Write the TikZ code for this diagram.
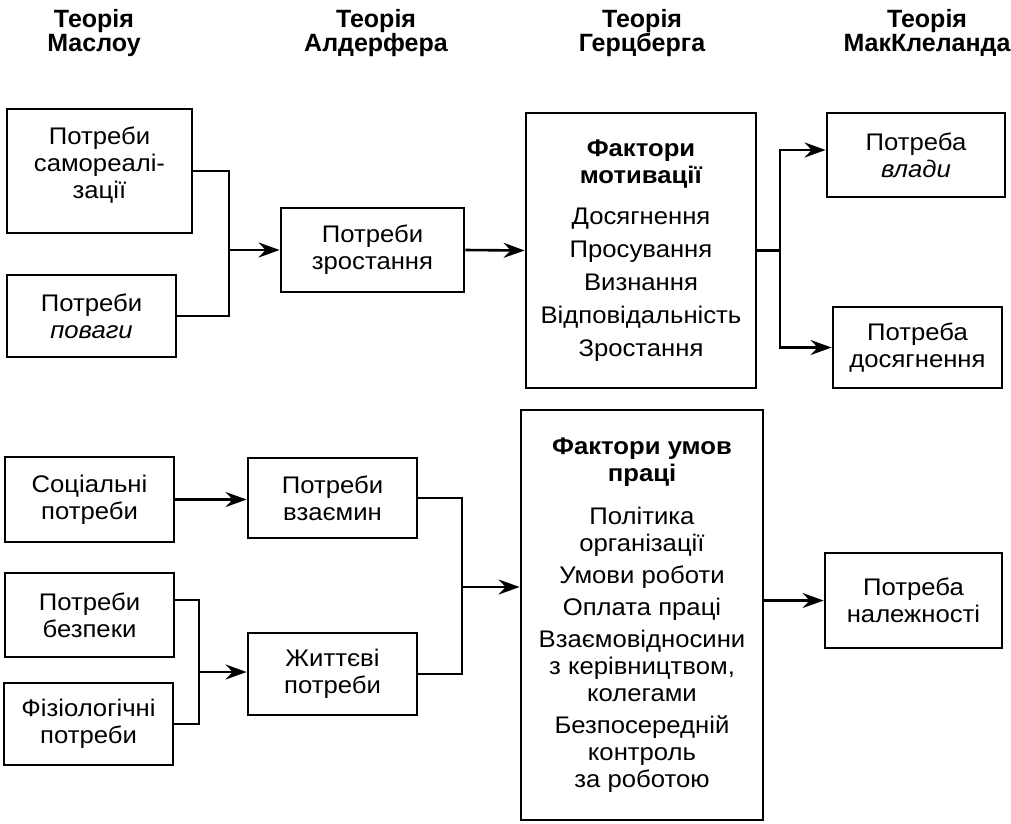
\documentclass[tikz,border=0pt]{standalone}
\usepackage{fontspec}
\setmainfont{Liberation Sans}[FakeStretch=1.07]
\newfontfamily\hdrfont{Liberation Sans}
\usetikzlibrary{arrows.meta}
\begin{document}
\begin{tikzpicture}[x=1pt,y=-1pt,
  box/.style={draw, line width=2.8pt, inner sep=0pt, align=center, font=\fontsize{24}{27}\selectfont},
  hdr/.style={align=center, font=\hdrfont\bfseries\fontsize{25}{24}\selectfont},
  conn/.style={line width=2.6pt},
  arr/.style={conn, -{Stealth[length=21pt,width=15pt,inset=7pt]}}]
\useasboundingbox (0,0) rectangle (1011,823);

% headers
\node[hdr] (h1) at (94,33) {Теорія\\Маслоу};
\node[hdr] (h2) at (376,33) {Теорія\\Алдерфера};
\node[hdr] (h3) at (642,33) {Теорія\\Герцберга};
\node[hdr] (h4) at (927,33) {Теорія\\МакКлеланда};

% Maslow
\node[box, minimum width=185pt, minimum height=124pt] (sam) at (99.5,171) {Потреби\\самореалі-\\зації\\[-11pt]};
\node[box, minimum width=169pt, minimum height=82pt] (pov) at (91.5,316) {Потреби\\\textit{поваги}};
\node[box, minimum width=169pt, minimum height=85pt] (soc) at (89.5,499.5) {Соціальні\\потреби};
\node[box, minimum width=169pt, minimum height=84pt] (bez) at (89.5,615) {Потреби\\безпеки};
\node[box, minimum width=169pt, minimum height=82pt] (fiz) at (88.5,724) {Фізіологічні\\потреби};

% Alderfer
\node[box, minimum width=183pt, minimum height=84pt] (zro) at (372.5,250) {Потреби\\зростання};
\node[box, minimum width=169pt, minimum height=80pt] (vza) at (332.5,498) {Потреби\\взаємин};
\node[box, minimum width=169pt, minimum height=82pt] (zht) at (332.5,674) {Життєві\\потреби};

% Herzberg
\node[box, minimum width=230pt, minimum height=275pt] (mot) at (641,250.5)
  {\textbf{Фактори}\\\textbf{мотивації}\\[14pt]
   Досягнення\\[6pt]Просування\\[6pt]Визнання\\[6pt]Відповідальність\\[6pt]Зростання};
\node[box, minimum width=242pt, minimum height=410pt] (umo) at (642,615)
  {\textbf{Фактори умов}\\\textbf{праці}\\[16pt]
   Політика\\організації\\[5pt]Умови роботи\\[5pt]Оплата праці\\[5pt]
   Взаємовідносини\\з керівництвом,\\колегами\\[5pt]Безпосередній\\контроль\\за роботою};

% McClelland
\node[box, minimum width=178pt, minimum height=84pt] (vla) at (916,155) {Потреба\\\textit{влади}};
\node[box, minimum width=169pt, minimum height=81pt] (dos) at (917.5,347.5) {Потреба\\досягнення};
\node[box, minimum width=177pt, minimum height=95pt] (nal) at (913.5,600.5) {Потреба\\належності};

% junction coordinates
\coordinate (j1) at (229,250);
\coordinate (j2) at (780,250.5);
\coordinate (j3) at (462,587);
\coordinate (j4) at (199,672);
\coordinate (ybez) at (0,600);
\coordinate (yvla) at (0,150);

% connectors
\draw[conn] (sam.east) -| (j1) |- (pov.east);
\draw[arr] (j1) -- (zro.west);
\draw[arr] (zro.east) -- (mot.west);
\draw[conn] (mot.east) -- (j2);
\draw[arr] (j2) |- (vla.west |- yvla);
\draw[arr] (j2) |- (dos.west);

\draw[arr] (soc.east) -- (soc.east -| vza.west);
\draw[conn] (vza.east) -| (j3) |- (zht.east);
\draw[arr] (j3) -- (j3 -| umo.west);
\draw[conn] (bez.east |- ybez) -| (j4) |- (fiz.east);
\draw[arr] (j4) -- (j4 -| zht.west);
\draw[arr] (umo.east |- nal.west) -- (nal.west);
\end{tikzpicture}
\end{document}
